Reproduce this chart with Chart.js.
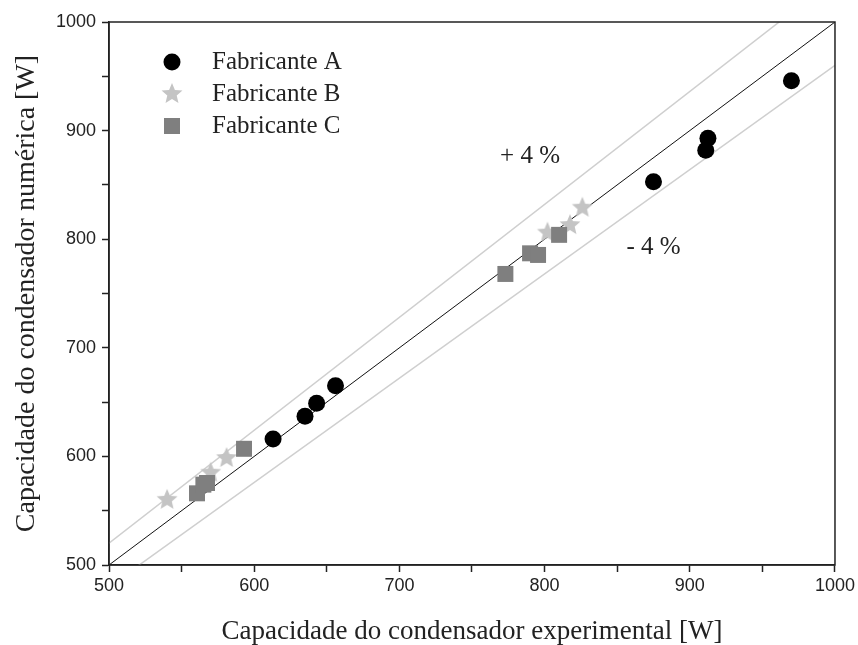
<!DOCTYPE html>
<html>
<head>
<meta charset="utf-8">
<script src="https://cdn.jsdelivr.net/npm/chart.js@4/dist/chart.umd.min.js"></script>
<style>
  html, body { margin:0; padding:0; background:#fff; }
  #wrap { width:858px; height:645px; }
</style>
</head>
<body>
<div id="wrap"><canvas id="cv" width="858" height="645"></canvas></div>
<script>
// data
const xA = [613, 635, 643, 656, 875, 911, 912.5, 970];
const yA = [616, 637, 649, 665, 853, 882, 893, 946];
const xB = [540, 570, 581, 802, 817.5, 826];
const yB = [560, 585, 598.5, 806, 813, 829];
const xC = [560.6, 565, 567.5, 593, 773, 790, 795.5, 810];
const yC = [566, 574, 575.5, 607, 768, 787, 785.5, 804];

// reference lines: y = x and +/- 4 %
const refX = [500, 1000];
const refY = [500, 1000];
const upY = [520, 1040];
const lowY = [480, 960];

const seriesNames = ['Fabricante A', 'Fabricante B', 'Fabricante C'];
const bandLabels = ['+ 4 %', '- 4 %'];

const pts = (xs, ys) => xs.map((x, i) => ({ x, y: ys[i] }));

// filled five point star for Fabricante B
function makeStar(r, color){
  const c = document.createElement('canvas');
  c.width = c.height = r * 2 + 2;
  const g = c.getContext('2d');
  g.fillStyle = color;
  g.beginPath();
  for (let i = 0; i < 10; i++) {
    const rr = i % 2 ? r * 0.45 : r;
    const a = -Math.PI / 2 + i * Math.PI / 5;
    const px = r + 1 + rr * Math.cos(a), py = r + 1 + rr * Math.sin(a);
    i ? g.lineTo(px, py) : g.moveTo(px, py);
  }
  g.closePath(); g.fill();
  return c;
}
const star = makeStar(11, '#c4c4c4');

const serif = '"Liberation Serif", "Times New Roman", serif';
const sans = '"Liberation Sans", Arial, sans-serif';

// frame, legend and the +/-4 % labels
const extras = {
  id: 'extras',
  afterDraw(chart){
    const { ctx, chartArea: a, scales } = chart;
    ctx.save();
    ctx.strokeStyle = '#222'; ctx.lineWidth = 1.5;
    ctx.strokeRect(a.left, a.top, a.right - a.left, a.bottom - a.top);

    ctx.font = '25px ' + serif;
    ctx.textBaseline = 'middle';
    const rows = [62, 94, 126];
    ctx.fillStyle = '#000';
    ctx.beginPath(); ctx.arc(172, rows[0], 8.5, 0, Math.PI * 2); ctx.fill();
    ctx.drawImage(star, 172 - star.width / 2, rows[1] - star.height / 2);
    ctx.fillStyle = '#7f7f7f';
    ctx.fillRect(164, rows[2] - 8, 16, 16);
    ctx.fillStyle = '#222';
    seriesNames.forEach((n, i) => ctx.fillText(n, 212, rows[i]));

    ctx.textAlign = 'center';
    ctx.fillText(bandLabels[0], scales.x.getPixelForValue(790), scales.y.getPixelForValue(876));
    ctx.fillText(bandLabels[1], scales.x.getPixelForValue(875), scales.y.getPixelForValue(792));
    ctx.restore();
  }
};

const tickCb = v => v % 100 === 0 ? v : '';

new Chart(document.getElementById('cv'), {
  type: 'scatter',
  data: {
    datasets: [
      { label: seriesNames[0], data: pts(xA, yA), pointStyle: 'circle', pointRadius: 8.5,
        backgroundColor: '#000', borderColor: '#000', borderWidth: 0, order: 1 },
      { label: seriesNames[2], data: pts(xC, yC), pointStyle: 'rect', pointRadius: 11.3,
        backgroundColor: '#7f7f7f', borderColor: '#7f7f7f', borderWidth: 0, order: 2 },
      { label: seriesNames[1], data: pts(xB, yB), pointStyle: star, pointRadius: 11,
        backgroundColor: '#c4c4c4', order: 3 },
      { type: 'line', data: pts(refX, refY), borderColor: '#111', borderWidth: 1,
        pointRadius: 0, order: 4 },
      { type: 'line', data: pts(refX, upY), borderColor: '#cfcfcf', borderWidth: 1.5,
        pointRadius: 0, order: 5 },
      { type: 'line', data: pts(refX, lowY), borderColor: '#cfcfcf', borderWidth: 1.5,
        pointRadius: 0, order: 5 }
    ]
  },
  options: {
    responsive: false,
    animation: false,
    layout: { padding: { top: 22, right: 23, left: 0, bottom: 0 } },
    plugins: { legend: { display: false }, tooltip: { enabled: false } },
    scales: {
      x: {
        type: 'linear', min: 500, max: 1000,
        afterFit: s => { s.height = 80; },
        ticks: { stepSize: 50, callback: tickCb, maxRotation: 0, autoSkip: false,
          color: '#222', padding: 3, font: { family: sans, size: 18 } },
        grid: { drawOnChartArea: false, drawTicks: true, tickLength: 7, tickColor: '#222', tickWidth: 1.5 },
        border: { color: '#222', width: 1.5 },
        title: { display: true, text: 'Capacidade do condensador experimental [W]',
          color: '#222', padding: 0, font: { family: serif, size: 27, lineHeight: 1 } }
      },
      y: {
        type: 'linear', min: 500, max: 1000,
        afterFit: s => { s.width = 109; },
        ticks: { stepSize: 50, callback: tickCb, autoSkip: false,
          color: '#222', padding: 6, font: { family: sans, size: 18 } },
        grid: { drawOnChartArea: false, drawTicks: true, tickLength: 7, tickColor: '#222', tickWidth: 1.5 },
        border: { color: '#222', width: 1.5 },
        title: { display: true, text: 'Capacidade do condensador numérica [W]',
          color: '#222', padding: { top: 13, bottom: 0 }, font: { family: serif, size: 28, lineHeight: 1 } }
      }
    }
  },
  plugins: [extras]
});
</script>
</body>
</html>
